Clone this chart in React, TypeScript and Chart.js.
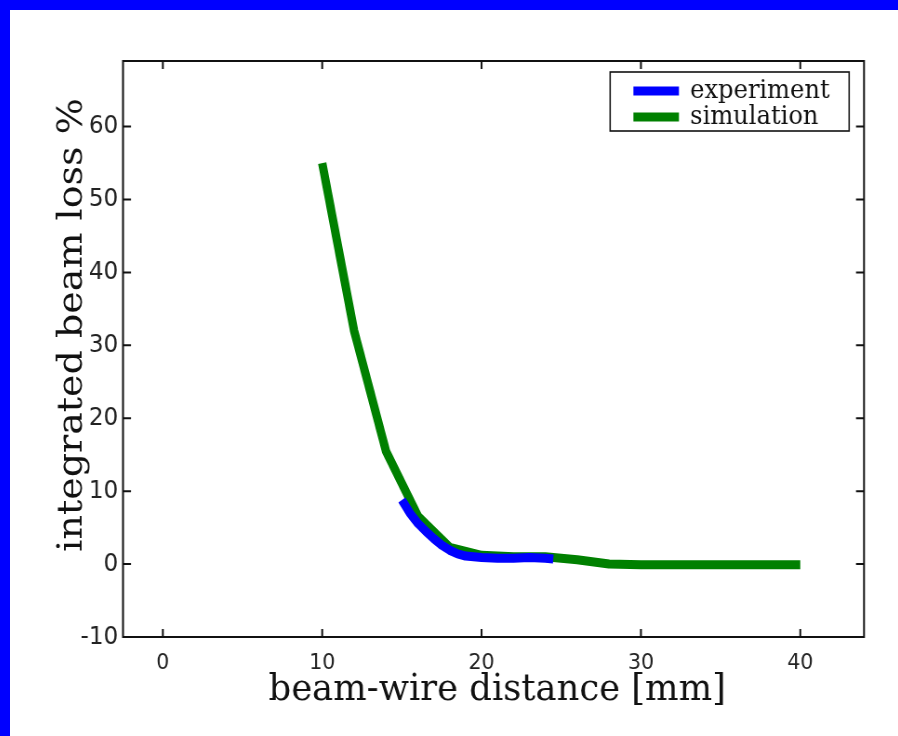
import React, { useEffect, useRef } from "react";
import { Chart, registerables } from "chart.js";

Chart.register(...registerables);

// ---- data ----
const xTicks = [0, 10, 20, 30, 40];
const yTicks = [-10, 0, 10, 20, 30, 40, 50, 60];
const seriesLabels = ["experiment", "simulation"];
const seriesColors = ["#0000ff", "#008000"];

const expX = [15, 15.5, 16, 16.5, 17, 17.5, 18, 18.5, 19, 20, 21, 22, 23, 24, 24.5];
const expY = [8.8, 7.0, 5.6, 4.5, 3.5, 2.6, 1.9, 1.4, 1.1, 0.9, 0.8, 0.8, 0.9, 0.8, 0.7];

const simX = [10, 12, 14, 16, 18, 20, 22, 24, 26, 28, 30, 32, 34, 36, 38, 40];
const simY = [55, 32, 15.5, 6.6, 2.3, 1.2, 1.0, 1.0, 0.6, 0.0, -0.1, -0.1, -0.1, -0.1, -0.1, -0.1];

const xTitle = "beam-wire distance [mm]";
const yTitle = "integrated beam loss %";

// ---- layout ----
const SX = 0.93; // horizontal squeeze of the reference picture
const CW = 955;
const CH = 726;
const SERIF = "'DejaVu Serif', serif";

const framePlugin = {
  id: "frame",
  afterDraw(chart: any) {
    const { ctx, chartArea } = chart;
    const { left, right, top, bottom } = chartArea;
    const xs = chart.scales.x;
    const ys = chart.scales.y;
    ctx.save();
    ctx.strokeStyle = "#111";
    ctx.lineWidth = 2;
    ctx.strokeRect(left, top, right - left, bottom - top);
    const tl = 8;
    ctx.beginPath();
    xTicks.forEach((v) => {
      const px = xs.getPixelForValue(v);
      ctx.moveTo(px, bottom);
      ctx.lineTo(px, bottom - tl);
      ctx.moveTo(px, top);
      ctx.lineTo(px, top + tl);
    });
    yTicks.forEach((v) => {
      const py = ys.getPixelForValue(v);
      ctx.moveTo(left, py);
      ctx.lineTo(left + tl / SX, py);
      ctx.moveTo(right, py);
      ctx.lineTo(right - tl / SX, py);
    });
    ctx.stroke();

    // axis titles
    ctx.fillStyle = "#111";
    ctx.textAlign = "center";
    ctx.textBaseline = "alphabetic";
    ctx.font = `38px ${SERIF}`;
    ctx.fillText(xTitle, (left + right) / 2 + 4, bottom + 63);
    ctx.save();
    ctx.translate(77, 315);
    ctx.rotate(-Math.PI / 2);
    ctx.font = `38px ${SERIF}`;
    ctx.fillText(yTitle, 0, 0);
    ctx.restore();

    // legend
    const lx1 = right - 16;
    const lx0 = lx1 - 257;
    const ly0 = top + 11;
    const ly1 = ly0 + 59;
    ctx.fillStyle = "#ffffff";
    ctx.fillRect(lx0, ly0, lx1 - lx0, ly1 - ly0);
    ctx.lineWidth = 1.6;
    ctx.strokeStyle = "#111";
    ctx.strokeRect(lx0, ly0, lx1 - lx0, ly1 - ly0);
    chart.data.datasets.forEach((ds: any, i: number) => {
      const cy = ly0 + 19 + i * 26;
      ctx.strokeStyle = ds.borderColor;
      ctx.lineWidth = 9;
      ctx.beginPath();
      ctx.moveTo(lx0 + 25, cy);
      ctx.lineTo(lx0 + 74, cy);
      ctx.stroke();
      ctx.fillStyle = "#111";
      ctx.font = `26px ${SERIF}`;
      ctx.textAlign = "left";
      ctx.textBaseline = "middle";
      ctx.fillText(ds.label, lx0 + 86, cy);
    });
    ctx.restore();
  },
};

export default function App() {
  const ref = useRef<HTMLCanvasElement | null>(null);

  useEffect(() => {
    if (!ref.current) return;
    const lineStyle = {
      borderWidth: 9,
      pointRadius: 0,
      tension: 0,
      borderJoinStyle: "round",
      borderCapStyle: "butt",
    };
    const chart = new Chart(ref.current, {
      type: "line",
      data: {
        datasets: [
          {
            label: seriesLabels[0],
            data: expX.map((x, i) => ({ x, y: expY[i] })),
            borderColor: seriesColors[0],
            backgroundColor: seriesColors[0],
            ...lineStyle,
          },
          {
            label: seriesLabels[1],
            data: simX.map((x, i) => ({ x, y: simY[i] })),
            borderColor: seriesColors[1],
            backgroundColor: seriesColors[1],
            ...lineStyle,
          },
        ],
      },
      options: {
        responsive: false,
        animation: false,
        devicePixelRatio: 1,
        layout: { padding: { left: 0, top: 51, right: 36.7, bottom: 0 } },
        plugins: {
          legend: { display: false },
          tooltip: { enabled: false },
        },
        scales: {
          x: {
            type: "linear",
            min: -2.5,
            max: 44,
            grid: { display: false, drawTicks: false },
            border: { display: false },
            ticks: {
              color: "#222",
              font: { family: "'DejaVu Sans'", size: 22 },
              padding: 13,
              maxRotation: 0,
              autoSkip: false,
            },
            afterBuildTicks: (s: any) => {
              s.ticks = xTicks.map((v) => ({ value: v }));
            },
            afterFit: (s: any) => {
              s.height = 99;
            },
          },
          y: {
            type: "linear",
            min: -10,
            max: 69,
            grid: { display: false, drawTicks: false },
            border: { display: false },
            ticks: {
              color: "#222",
              font: { family: "'DejaVu Sans'", size: 25 },
              padding: 5,
              autoSkip: false,
            },
            afterBuildTicks: (s: any) => {
              s.ticks = yTicks.map((v) => ({ value: v }));
            },
            afterFit: (s: any) => {
              s.width = 121.5;
            },
          },
        },
      } as any,
      plugins: [framePlugin],
    });
    return () => chart.destroy();
  }, []);

  return (
    <div
      style={{
        position: "fixed",
        left: 0,
        top: 0,
        width: 1000,
        height: 800,
        boxSizing: "border-box",
        borderTop: "10px solid #0000ff",
        borderLeft: "10px solid #0000ff",
        background: "#ffffff",
        overflow: "hidden",
      }}
    >
      <div
        style={{
          width: CW,
          height: CH,
          transform: `scaleX(${SX})`,
          transformOrigin: "0 0",
        }}
      >
        <canvas ref={ref} width={CW} height={CH} style={{ display: "block" }} />
      </div>
    </div>
  );
}
